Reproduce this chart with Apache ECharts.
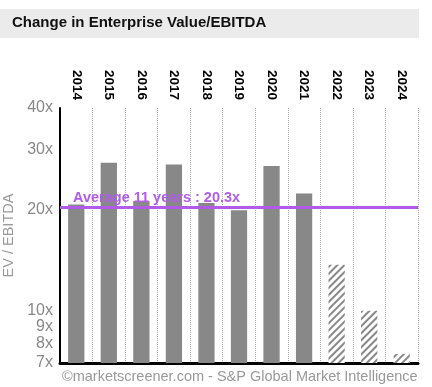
<!DOCTYPE html>
<html><head><meta charset="utf-8">
<script src="https://cdn.jsdelivr.net/npm/echarts@6/dist/echarts.min.js"></script>
<style>html,body{margin:0;padding:0;background:#fff}#c{width:432px;height:387px}</style>
</head><body><div id="c"></div>
<script>
var years = ['2014','2015','2016','2017','2018','2019','2020','2021','2022','2023','2024'];
var actualValues = [20.7, 27.5, 21.2, 27.2, 20.9, 19.9, 26.9, 22.3, null, null, null];
var forecastValues = [null, null, null, null, null, null, null, null, 13.7, 10.0, 7.45];
var yTicks = [7, 8, 9, 10, 20, 30, 40];
var averageValue = 20.3;
var averageLabel = 'Average 11 years : 20.3x';

var chart = echarts.init(document.getElementById('c'));
chart.setOption({
  animation: false,
  graphic: [
    {type:'rect', shape:{x:0,y:9,width:419,height:29}, style:{fill:'#ebebeb'}},
    {type:'text', left:12, top:15, style:{text:'Change in Enterprise Value/EBITDA', font:'bold 15px "Liberation Sans", Arial, sans-serif', fill:'#111'}},
    {type:'text', left:62, top:369, style:{text:'©marketscreener.com - S&P Global Market Intelligence', font:'14.5px "Liberation Sans", Arial, sans-serif', fill:'#999'}}
  ],
  grid: {left:60, right:14, top:108, bottom:24, containLabel:false, outerBoundsMode:'none'},
  xAxis: [
    {type:'category', data:years, position:'top',
     axisLine:{show:false}, axisTick:{show:false},
     axisLabel:{rotate:90, margin:8, color:'#000', fontWeight:'bold', fontSize:13.5, fontFamily:'"Liberation Sans", Arial, sans-serif'},
     splitLine:{show:true, interval:function(i){ return i > 0 && i < years.length; }, lineStyle:{color:'#aaa', type:'dotted', width:1}}},
    {type:'category', data:years, position:'bottom',
     axisLine:{show:true, lineStyle:{color:'#000', width:3}}, axisTick:{show:false}, axisLabel:{show:false}}
  ],
  yAxis: {
    type:'log', min:7, max:40, logBase:10,
    name:'EV / EBITDA', nameLocation:'middle', nameGap:43, nameRotate:90,
    nameTextStyle:{color:'#999', fontSize:14.5, fontFamily:'"Liberation Sans", Arial, sans-serif'},
    axisLine:{show:true, lineStyle:{color:'#000', width:2}},
    axisTick:{show:false}, splitLine:{show:false},
    axisLabel:{color:'#888', fontSize:16, margin:7, fontFamily:'"Liberation Sans", Arial, sans-serif',
      customValues: yTicks, formatter:function(v){return Math.round(v)+'x';}}
  },
  series: [
    {type:'bar', data:actualValues, barWidth:'50%', barGap:'-100%', itemStyle:{color:'#888888'},
     markLine:{symbol:'none', silent:true, data:[{yAxis:averageValue}],
       lineStyle:{color:'#b05ce8', width:3, type:'solid'},
       label:{show:true, position:'insideStartTop', formatter:averageLabel, color:'#b05ce8', fontWeight:'bold', fontSize:14.5, distance:[13,2], fontFamily:'"Liberation Sans", Arial, sans-serif'}}},
    {type:'bar', data:forecastValues, barWidth:'50%', barGap:'-100%',
     itemStyle:{color:'#ffffff', decal:{symbol:'rect', symbolSize:1, dashArrayX:[1,0], dashArrayY:[2,3], rotation:-Math.PI/4, color:'#888888'}}}
  ]
});
</script></body></html>
